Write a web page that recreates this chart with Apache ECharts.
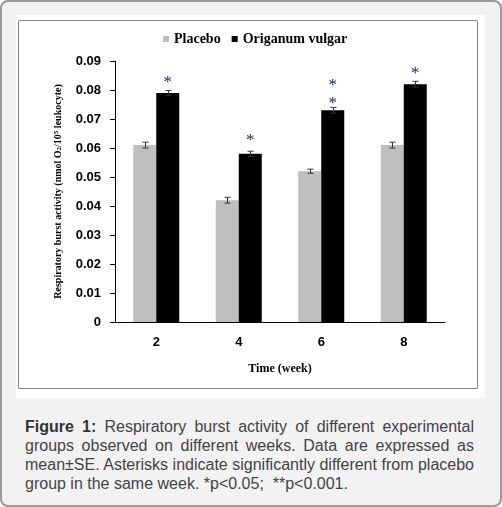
<!DOCTYPE html>
<html>
<head>
<meta charset="utf-8">
<script src="https://cdn.jsdelivr.net/npm/echarts@6/dist/echarts.min.js"></script>
<style>
html, body { margin: 0; padding: 0; background: #fff; }
#box { position: absolute; left: 0; top: 0; width: 502px; height: 507px; box-sizing: border-box;
  border: 2px solid #9a9a9a; border-radius: 8px; background: #f2f2f2; }
#chart { position: absolute; left: 16px; top: 15px; width: 469px; height: 383px; background: #fff; }
#caption { position: absolute; left: 25px; top: 417px; width: 449px; font-family: "Liberation Sans", Arial, sans-serif;
  font-size: 16px; line-height: 19px; color: #444; text-align: justify; }
#caption b { color: #333; }
</style>
</head>
<body>
<div id="box"></div>
<div id="chart"></div>
<div id="caption"><b>Figure 1:</b> Respiratory burst activity of different experimental groups observed on different weeks. Data are expressed as mean±SE. Asterisks indicate significantly different from placebo group in the same week. *p&lt;0.05;&nbsp; **p&lt;0.001.</div>
<script>
var weeks = ['2', '4', '6', '8'];
var placebo = [0.061, 0.042, 0.052, 0.061];
var placeboErr = [0.001, 0.001, 0.0007, 0.001];
var origanum = [0.079, 0.058, 0.073, 0.082];
var origanumErr = [0.0008, 0.0009, 0.001, 0.001];
// asterisk heights above the Origanum bars (value units)
var stars = [[0.0840], [0.0641], [0.0768, 0.0828], [0.0871]];
var yTicks = ['0', '0.01', '0.02', '0.03', '0.04', '0.05', '0.06', '0.07', '0.08', '0.09'];

var serif = '"Liberation Serif", "Times New Roman", serif';
var sans = '"Liberation Sans", Arial, sans-serif';
var barW = 23;

function errData(vals, errs) {
  var out = [];
  for (var i = 0; i < vals.length; i++) out.push([i, vals[i], errs[i]]);
  return out;
}
var starData = [];
stars.forEach(function (list, i) {
  list.forEach(function (v) { starData.push([i, v]); });
});

function errRender(shift) {
  return function (params, api) {
    var i = api.value(0), v = api.value(1), e = api.value(2);
    var top = api.coord([i, v + e]);
    var bot = api.coord([i, v - e]);
    var x = Math.round(top[0] + shift) + 0.5;
    var st = { stroke: '#333', lineWidth: 1 };
    return {
      type: 'group',
      children: [
        { type: 'line', shape: { x1: x, y1: top[1], x2: x, y2: bot[1] }, style: st },
        { type: 'line', shape: { x1: x - 3, y1: top[1], x2: x + 3, y2: top[1] }, style: st },
        { type: 'line', shape: { x1: x - 3, y1: bot[1], x2: x + 3, y2: bot[1] }, style: st }
      ]
    };
  };
}

var chart = echarts.init(document.getElementById('chart'));
var option = {
  animation: false,
  graphic: [{
    type: 'rect', silent: true,
    shape: { x: 2.5, y: 5.5, width: 459, height: 368 },
    style: { fill: 'none', stroke: '#8a8a8a', lineWidth: 1 }
  }],
  legend: {
    left: 142, top: 12,
    icon: 'rect', itemWidth: 6, itemHeight: 6, itemGap: 11,
    data: ['Placebo', 'Origanum vulgar'],
    textStyle: { fontFamily: serif, fontWeight: 'bold', fontSize: 14, color: '#000' }
  },
  grid: { left: 99, top: 46, right: 40, bottom: 76 },
  xAxis: {
    type: 'category',
    data: weeks,
    name: 'Time (week)',
    nameLocation: 'middle',
    nameGap: 41,
    nameTextStyle: { fontFamily: serif, fontWeight: 'bold', fontSize: 12, color: '#000' },
    axisLine: { lineStyle: { color: '#000', width: 1 } },
    axisTick: { length: 5, lineStyle: { color: '#000' } },
    axisLabel: { margin: 14, fontFamily: sans, fontWeight: 'bold', fontSize: 13, color: '#000' }
  },
  yAxis: {
    type: 'value',
    min: 0, max: 0.09, interval: 0.01,
    name: 'Respiratory burst activity (nmol O{sub|2}/10{sup|5} leukocyte)',
    nameLocation: 'middle',
    nameGap: 52,
    nameTextStyle: {
      fontFamily: serif, fontWeight: 'bold', fontSize: 10, color: '#000',
      rich: {
        sub: { fontFamily: serif, fontWeight: 'bold', fontSize: 7, color: '#000', verticalAlign: 'bottom' },
        sup: { fontFamily: serif, fontWeight: 'bold', fontSize: 7, color: '#000', verticalAlign: 'top' }
      }
    },
    splitLine: { show: false },
    axisLine: { show: true, lineStyle: { color: '#000', width: 1 } },
    axisTick: { show: true, length: 5, lineStyle: { color: '#000' } },
    axisLabel: {
      margin: 14, fontFamily: sans, fontWeight: 'bold', fontSize: 13, color: '#000',
      formatter: function (v) { return yTicks[Math.round(v * 100)]; }
    }
  },
  series: [
    { name: 'Placebo', type: 'bar', data: placebo, barWidth: barW, barGap: '0%',
      itemStyle: { color: '#bfbfbf' } },
    { name: 'Origanum vulgar', type: 'bar', data: origanum, barWidth: barW, barGap: '0%',
      itemStyle: { color: '#000' } },
    { type: 'custom', data: errData(placebo, placeboErr), renderItem: errRender(-barW / 2), z: 5, silent: true },
    { type: 'custom', data: errData(origanum, origanumErr), renderItem: errRender(barW / 2), z: 5, silent: true },
    {
      type: 'custom', data: starData, z: 5, silent: true,
      renderItem: function (params, api) {
        var p = api.coord([api.value(0), api.value(1)]);
        return {
          type: 'text',
          style: {
            x: p[0] + barW / 2, y: p[1] + 4, text: '*',
            align: 'center', verticalAlign: 'middle',
            font: '17px ' + serif, fill: '#1a2250'
          }
        };
      }
    }
  ]
};
chart.setOption(option);
</script>
</body>
</html>
